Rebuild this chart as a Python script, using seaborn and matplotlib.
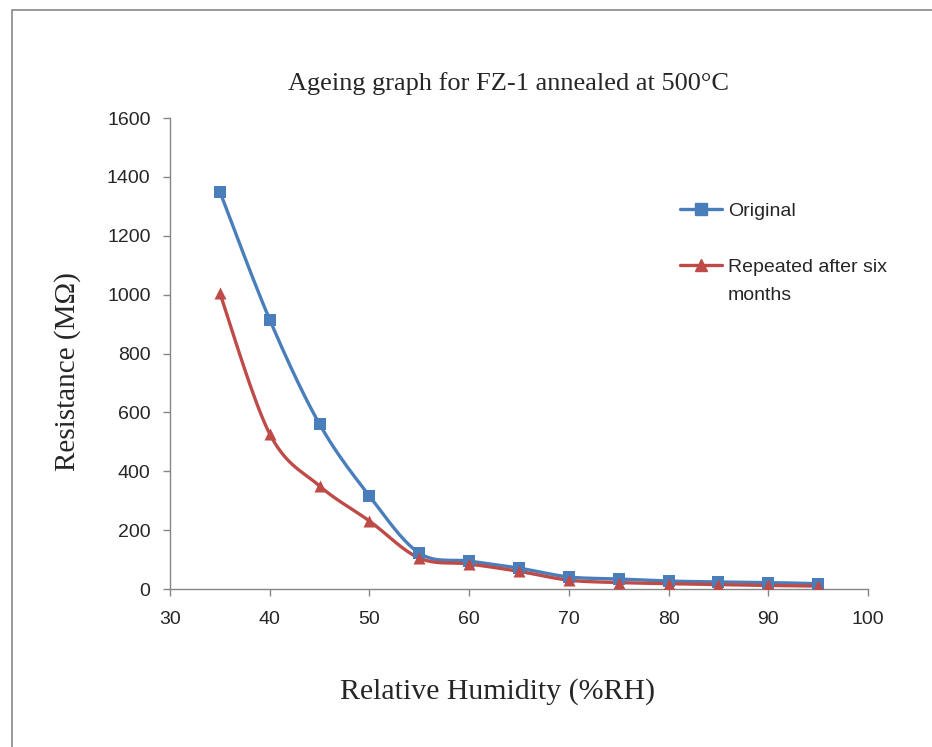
import numpy as np
import pandas as pd
import matplotlib
matplotlib.use('Agg')
import matplotlib.pyplot as plt
import seaborn as sns
from matplotlib.patches import Rectangle
from matplotlib.lines import Line2D

# Datos
humedad = [35, 40, 45, 50, 55, 60, 65, 70, 75, 80, 85, 90, 95]
original = [1350, 915, 560, 316, 122, 95, 71, 41, 34, 27, 24, 22, 18]
repetido = [1005, 527, 350, 231, 105, 85, 60, 30, 22, 18, 15, 12, 10]
series = ['Original', 'Repeated after six']
colores = ['#4A7EBB', '#BE4B48']
marcadores = ['s', '^']


def suavizar(x, y, n=20):
    # curva tipo Catmull-Rom solo para dibujar la linea (como Excel)
    x = np.asarray(x, float)
    y = np.asarray(y, float)
    px = np.concatenate([[x[0]], x, [x[-1]]])
    py = np.concatenate([[y[0]], y, [y[-1]]])
    xs, ys = [], []
    t = np.linspace(0, 1, n, endpoint=False)
    for i in range(1, len(px) - 2):
        for arr, out in ((px, xs), (py, ys)):
            p0, p1, p2, p3 = arr[i - 1], arr[i], arr[i + 1], arr[i + 2]
            out.extend(0.5 * ((2 * p1) + (-p0 + p2) * t
                              + (2 * p0 - 5 * p1 + 4 * p2 - p3) * t ** 2
                              + (-p0 + 3 * p1 - 3 * p2 + p3) * t ** 3))
    xs.append(x[-1])
    ys.append(y[-1])
    return np.array(xs), np.array(ys)


df = pd.DataFrame({'RH': humedad * 2,
                   'R': original + repetido,
                   'serie': [series[0]] * len(humedad) + [series[1]] * len(humedad)})

sns.set_style('white')
fig = plt.figure(figsize=(9.32, 7.47), dpi=100)
ax = fig.add_axes([170 / 932, 1 - 589 / 747, (868 - 170) / 932, (589 - 118) / 747])

for s, c, m in zip(series, colores, marcadores):
    sub = df[df['serie'] == s]
    xs, ys = suavizar(sub['RH'], sub['R'])
    ax.plot(xs, ys, color=c, lw=2.4, zorder=2)
    sns.scatterplot(data=sub, x='RH', y='R', marker=m, color=c, s=75,
                    edgecolor=c, linewidth=0, ax=ax, zorder=3)

# leyenda
handles = [Line2D([], [], color=c, lw=2.4, marker=m, markersize=8.5)
           for c, m in zip(colores, marcadores)]
leg = ax.legend(handles, series, loc='center left',
                bbox_to_anchor=(680 / 932, 1 - 239 / 747), bbox_transform=fig.transFigure,
                frameon=False, prop={'family': 'Liberation Sans', 'size': 14},
                labelspacing=1.95, handlelength=2.15, handletextpad=0.3,
                borderpad=0, borderaxespad=0)
fig.text(728 / 932, 1 - 295 / 747, 'months', family='Liberation Sans', fontsize=14,
         ha='left', va='center')

ax.set_xlim(30, 100)
ax.set_ylim(0, 1600)
ax.set_xticks(range(30, 101, 10))
ax.set_yticks(range(0, 1601, 200))
for lab in ax.get_xticklabels() + ax.get_yticklabels():
    lab.set_family('Liberation Sans')
    lab.set_fontsize(14)
ax.tick_params(axis='both', direction='out', length=5, width=1, color='#868686',
               left=True, bottom=True)
ax.tick_params(axis='x', pad=11)
ax.tick_params(axis='y', pad=9)
sns.despine(ax=ax)
for sp in ['left', 'bottom']:
    ax.spines[sp].set_color('#868686')
    ax.spines[sp].set_linewidth(1)

ax.set_xlabel('')
ax.set_ylabel('')
fig.text(498 / 932, 1 - 692 / 747, 'Relative Humidity (%RH)', family='Liberation Serif',
         fontsize=21.5, ha='center', va='center')
fig.text(68 / 932, 1 - 372 / 747, 'Resistance (MΩ)', family='Liberation Serif',
         fontsize=21, ha='center', va='center', rotation=90)
fig.text(509 / 932, 1 - 84 / 747, 'Ageing graph for FZ-1 annealed at 500°C',
         family='Liberation Serif', fontsize=19, ha='center', va='center')

# marco exterior del grafico
fig.patches.append(Rectangle((12 / 932, -0.1), 1.2, 1.1 - 10 / 747, transform=fig.transFigure,
                             fill=False, edgecolor='#888888', lw=1.2))

fig.savefig('out.png', dpi=100)
